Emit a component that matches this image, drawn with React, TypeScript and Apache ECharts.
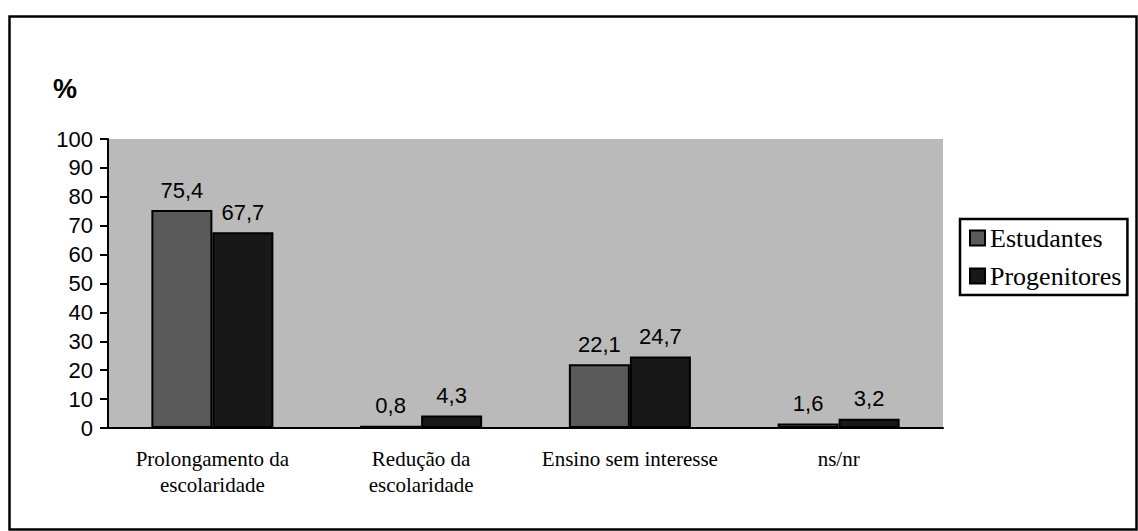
import React, { useEffect, useRef } from "react";
import * as echarts from "echarts";

const categories = ["Prolongamento da\nescolaridade", "Redução da\nescolaridade", "Ensino sem interesse", "ns/nr"];
const estudantes = [75.4, 0.8, 22.1, 1.6];
const progenitores = [67.7, 4.3, 24.7, 3.2];
const yTicks = { min: 0, max: 100, interval: 10 };

export default function App() {
  const ref = useRef<HTMLDivElement>(null);
  useEffect(() => {
    const chart = echarts.init(ref.current!, null, { renderer: "svg" });
    const label = {
      show: true,
      position: "top",
      distance: 9,
      color: "#000",
      fontFamily: "Liberation Sans",
      fontSize: 22,
      formatter: (p: any) => String(p.value).replace(".", ","),
    };
    chart.setOption({
      animation: false,
      backgroundColor: "#fff",
      graphic: [
        {
          type: "rect",
          shape: { x: 9.5, y: 16.5, width: 1127, height: 513 },
          style: { fill: "none", stroke: "#000", lineWidth: 2.5 },
          silent: true,
        },
        {
          type: "text",
          left: 53,
          top: 75,
          style: { text: "%", fontSize: 27, fontWeight: "bold", fontFamily: "Liberation Sans", fill: "#000" },
        },
      ],
      grid: {
        left: 108,
        right: 195,
        top: 139,
        bottom: 103,
        show: true,
        backgroundColor: "#bababa",
        borderWidth: 0,
      },
      legend: {
        orient: "vertical",
        left: 960,
        top: 219,
        padding: [6, 6, 6, 9],
        itemWidth: 15,
        itemHeight: 15,
        itemGap: 12,
        borderColor: "#000",
        borderWidth: 2.5,
        icon: "rect",
        textStyle: { fontFamily: "Liberation Serif", fontSize: 26, color: "#000", padding: [0, 0, 0, 0] },
        data: ["Estudantes", "Progenitores"],
      },
      xAxis: {
        type: "category",
        data: categories,
        axisLine: { lineStyle: { color: "#000", width: 2 } },
        axisTick: { lineStyle: { color: "#000", width: 2 }, length: 7 },
        axisLabel: {
          fontFamily: "Liberation Serif",
          fontSize: 21,
          color: "#000",
          margin: 18,
          lineHeight: 26,
          interval: 0,
        },
      },
      yAxis: {
        type: "value",
        min: yTicks.min,
        max: yTicks.max,
        interval: yTicks.interval,
        splitLine: { show: false },
        axisLine: { show: true, lineStyle: { color: "#000", width: 2 } },
        axisTick: { show: true, lineStyle: { color: "#000", width: 2 }, length: 8 },
        axisLabel: {
          fontFamily: "Liberation Sans",
          fontSize: 22,
          color: "#000",
          margin: 15,
        },
      },
      series: [
        {
          name: "Estudantes",
          type: "bar",
          data: estudantes,
          barWidth: 61,
          barGap: "0%",
          itemStyle: { color: "#5a5a5a", borderColor: "#000", borderWidth: 2 },
          label,
        },
        {
          name: "Progenitores",
          type: "bar",
          data: progenitores,
          barWidth: 61,
          itemStyle: { color: "#181818", borderColor: "#000", borderWidth: 2 },
          label,
        },
      ],
    });
    return () => chart.dispose();
  }, []);
  return <div ref={ref} style={{ position: "absolute", left: 0, top: 0, width: 1138, height: 531 }} />;
}
